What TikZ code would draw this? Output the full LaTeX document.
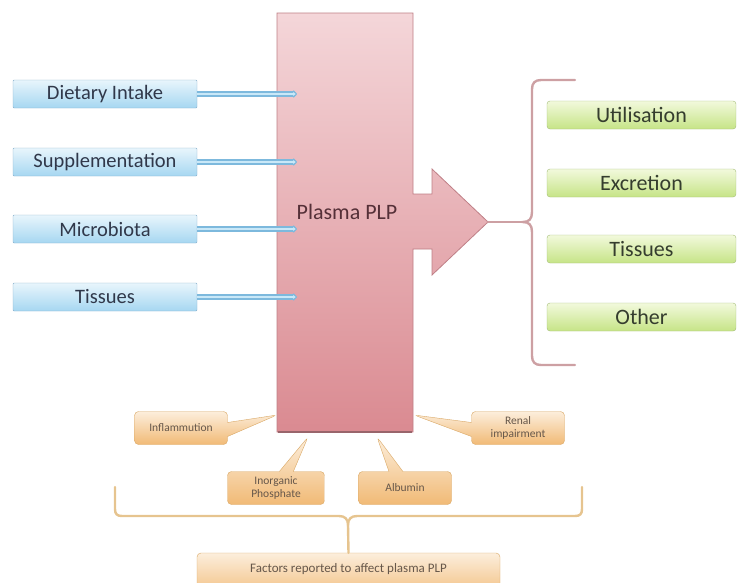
\documentclass[tikz,border=0pt]{standalone}
\usepackage{fontspec}
\setmainfont{Carlito}
\usetikzlibrary{arrows.meta,shapes.callouts}
\definecolor{intop}{HTML}{E8F5FC}
\definecolor{inbot}{HTML}{A6D7F1}
\definecolor{inedge}{HTML}{86AECB}
\definecolor{intext}{HTML}{30384A}
\definecolor{feedout}{HTML}{7DB9DD}
\definecolor{feedin}{HTML}{C9E8F8}
\definecolor{outtop}{HTML}{F2F9DC}
\definecolor{outbot}{HTML}{C6E487}
\definecolor{outedge}{HTML}{A3BC78}
\definecolor{outtext}{HTML}{353D2E}
\definecolor{pooltop}{HTML}{F4D6D9}
\definecolor{poolbot}{HTML}{DA8A91}
\definecolor{pooledge}{HTML}{BF7F86}
\definecolor{pooltext}{HTML}{553038}
\definecolor{facttop}{HTML}{FCEEDC}
\definecolor{factbot}{HTML}{F1BA76}
\definecolor{factedge}{HTML}{D9A866}
\definecolor{facttext}{HTML}{66574A}
\definecolor{pinkbrace}{HTML}{CDA0A3}
\definecolor{tanbrace}{HTML}{E6C48F}

\begin{document}
\begin{tikzpicture}[x=1pt, y=-1pt, >=stealth,
    inbox/.style={draw=inedge, top color=intop, bottom color=inbot, rounded corners=1pt,
        minimum width=184pt, minimum height=28pt, text=intext, font=\fontsize{20.5}{22}\selectfont},
    outbox/.style={draw=outedge, top color=outtop, bottom color=outbot, rounded corners=3pt,
        minimum width=189pt, minimum height=28pt, text=outtext, font=\fontsize{22}{24}\selectfont},
    feed/.style={draw=feedout, line width=5.5pt, -{Triangle[round,length=4pt,width=8.5pt]},
        postaction={draw=feedin, line width=2.6pt, shorten >=1.5pt, -{Triangle[round,length=2.5pt,width=4pt]}}},
    factor/.style={rectangle callout, draw=factedge, top color=facttop, bottom color=factbot,
        rounded corners=4pt, callout pointer width=14pt, minimum width=93pt, minimum height=33pt,
        inner sep=2pt, align=center, text=facttext, font=\fontsize{11.5}{13}\selectfont},
    brace/.style={line width=2.4pt, line cap=round}]
    \useasboundingbox (0,0) rectangle (737,582);

    % Plasma pool with its outflow arrow
    \draw[pooledge, top color=pooltop, bottom color=poolbot, line width=0.8pt]
        (277,13) -- (413,13) -- (413,194) -- (432,194) -- (432,169) -- (488,222)
        -- (432,275) -- (432,249) -- (413,249) -- (413,432) -- (277,432) -- cycle;
    \draw[pooledge!80!black, line width=1.5pt] (278,432) -- (412,432);
    \node[text=pooltext, font=\fontsize{22}{24}\selectfont] (plasma) at (347,212) {Plasma PLP};
    \coordinate (outlet) at (488,222);
    \coordinate (inlet) at (297,0);

    % Sources
    \foreach \name/\txt/\y in {diet/Dietary Intake/94, suppl/Supplementation/162,
                               micro/Microbiota/229, tissin/Tissues/297} {
        \node[inbox] (\name) at (105,\y) {\txt};
        \draw[feed] (\name.east) -- (\name.east -| inlet);
    }

    % Fates
    \foreach \name/\txt/\y in {util/Utilisation/115, excr/Excretion/183,
                               tissout/Tissues/249, other/Other/317} {
        \node[outbox] (\name) at (641.5,\y) {\txt};
    }
    \coordinate (rcusp) at (523,222);
    \draw[brace, pinkbrace] (575,80) -- (541,80) .. controls (535,80) and (532,83) .. (532,89)
        -- (532,212) .. controls (532,219) and (529,222) .. (rcusp)
        .. controls (529,222) and (532,225) .. (532,232) -- (532,356)
        .. controls (532,362) and (535,365) .. (541,365) -- (575,365);
    \draw[brace, pinkbrace] (outlet) -- (rcusp);

    % Factors
    \coordinate (inflamtip) at (277,415);
    \coordinate (renaltip) at (414,415);
    \coordinate (phostip) at (308,437);
    \coordinate (albtip) at (377,437);
    \node[factor, callout absolute pointer=(inflamtip)] (inflam) at (181,428) {Inflammution};
    \node[factor, callout absolute pointer=(renaltip)] (renal) at (518,428) {Renal\\impairment};
    \node[factor, callout absolute pointer=(phostip), minimum width=97pt] (phos) at (276,488) {Inorganic\\Phosphate};
    \node[factor, callout absolute pointer=(albtip)] (alb) at (405,488) {Albumin};

    \node[draw=factedge, top color=facttop, bottom color=factbot!80!facttop, rounded corners=4pt,
        minimum width=303pt, minimum height=38pt, text=facttext, font=\fontsize{13}{15}\selectfont,
        text depth=8pt] (factors) at (348.5,572) {Factors reported to affect plasma PLP};
    \coordinate (bcusp) at (348,525);
    \draw[brace, tanbrace] (115,487) -- (115,509) .. controls (115,514) and (117,516) .. (122,516)
        -- (339,516) .. controls (345,516) and (348,519) .. (bcusp)
        .. controls (348,519) and (351,516) .. (357,516) -- (575,516)
        .. controls (580,516) and (582,514) .. (582,509) -- (582,487);
    \draw[brace, tanbrace] (bcusp) -- (factors.north);
\end{tikzpicture}
\end{document}
